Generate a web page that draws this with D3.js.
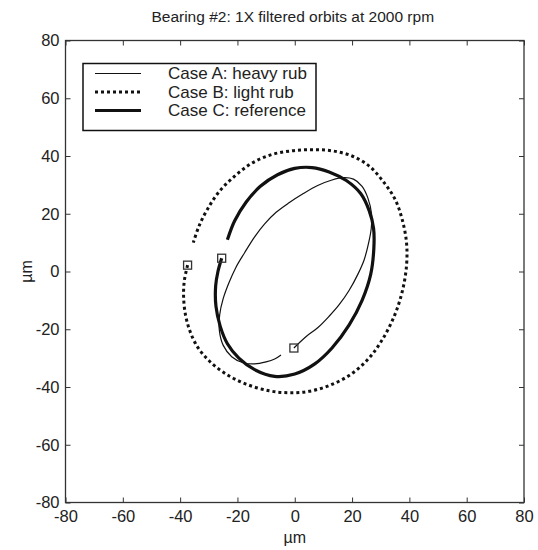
<!DOCTYPE html>
<html>
<head>
<meta charset="utf-8">
<script src="https://cdn.jsdelivr.net/npm/d3@7"></script>
<style>
  body { margin: 0; background: #fff; }
  text { font-family: "Liberation Sans", Arial, sans-serif; fill: #222; }
</style>
</head>
<body>
<div id="chart"></div>
<script>
// orbit data (µm)
var caseA = [[-0.3,-26.5],[4,-22.5],[8,-19.5],[12,-15.5],[15.5,-11.5],[19,-6.5],[22,-1],[24.2,4],
  [25.8,10],[26.7,15],[26.8,20],[25.5,25.5],[23.5,29.5],[20.5,32],[17,32.5],[13,31.7],[8,29.8],
  [3,27],[-2,23.8],[-6.5,20.5],[-10.5,16.5],[-14,12],[-17.5,6.5],[-20.5,1.5],[-23,-4],[-25,-9.5],
  [-26.2,-15],[-26.3,-20.5],[-25,-25.5],[-22,-29.5],[-18,-31.6],[-14,-32],[-10,-31.3],[-7,-30.3],[-4.8,-28.9]];
var caseB = [[-37.4,2.2],[-38.5,-3],[-38.8,-8],[-38.3,-14],[-36.8,-20],[-34,-26],[-29.8,-31],[-24,-35.5],
  [-17,-39],[-9,-41.3],[-2,-42],[5,-41.5],[12,-39.5],[19,-36],[25,-31],[30,-24.5],[34.5,-16],[37.5,-7],
  [39,2],[39,10],[37.5,18],[35,25],[31,31],[26,36.5],[20,40],[13,41.8],[6,42.2],[-1,41.8],[-8,40.5],
  [-15,37.5],[-21,33],[-26.5,27.5],[-30.5,21.5],[-33.5,15.5],[-35.4,10]];
var caseC = [[-25.5,4.6],[-26.8,0],[-27.6,-5],[-27.5,-12],[-26,-19],[-23.5,-25],[-19.5,-30],[-14,-34],
  [-7,-36.3],[0,-35.5],[7,-32],[13,-26.5],[19,-18.5],[23.5,-10],[26.5,-1],[27.6,8],[27.5,15],[26,21],
  [23,27],[18,31.5],[12,34.5],[6,36],[0,35.7],[-6,33.5],[-12,29.5],[-17,24],[-21,17.5],[-23.5,11]];
var legendNames = ["Case A: heavy rub", "Case B: light rub", "Case C: reference"];
var ticks = [-80, -60, -40, -20, 0, 20, 40, 60, 80];

var W = 538, H = 550;
var margin = {top: 40.5, right: 14, bottom: 47.5, left: 65.5},
    width = W - margin.left - margin.right,
    height = H - margin.top - margin.bottom;

var x = d3.scaleLinear().domain([-80, 80]).range([0, width]);
var y = d3.scaleLinear().domain([-80, 80]).range([height, 0]);

var svg = d3.select("#chart").append("svg")
    .attr("width", W)
    .attr("height", H);

svg.append("text")
    .attr("x", margin.left + width / 2 - 2)
    .attr("y", 22)
    .attr("text-anchor", "middle")
    .style("font-size", "15.5px")
    .text("Bearing #2: 1X filtered orbits at 2000 rpm");

var g = svg.append("g")
    .attr("transform", "translate(" + margin.left + "," + margin.top + ")");

// axes, ticks inside on all four sides
function fmt(d) { return String(d); }
function styleAxis(sel) {
  sel.select(".domain").remove();
  sel.selectAll("line").attr("stroke", "#333");
  sel.selectAll("text").style("font-size", "16.5px").attr("fill", "#222");
}
g.append("g").attr("transform", "translate(0," + height + ")")
    .call(d3.axisBottom(x).tickValues(ticks).tickSizeInner(-5).tickSizeOuter(0).tickPadding(8).tickFormat(fmt))
    .call(styleAxis);
g.append("g")
    .call(d3.axisLeft(y).tickValues(ticks).tickSizeInner(-5).tickSizeOuter(0).tickPadding(6).tickFormat(fmt))
    .call(styleAxis);
g.append("g")
    .call(d3.axisTop(x).tickValues(ticks).tickSizeInner(-5).tickSizeOuter(0).tickFormat(""))
    .call(styleAxis);
g.append("g").attr("transform", "translate(" + width + ",0)")
    .call(d3.axisRight(y).tickValues(ticks).tickSizeInner(-5).tickSizeOuter(0).tickFormat(""))
    .call(styleAxis);

g.append("rect")
    .attr("width", width).attr("height", height)
    .attr("fill", "none").attr("stroke", "#333").attr("stroke-width", 1.3);

svg.append("text")
    .attr("x", margin.left + x(0))
    .attr("y", 543)
    .attr("text-anchor", "middle")
    .style("font-size", "16px")
    .text("µm");
svg.append("text")
    .attr("transform", "translate(32," + (margin.top + y(0)) + ") rotate(-90)")
    .attr("text-anchor", "middle")
    .style("font-size", "16px")
    .text("µm");

var line = d3.line()
    .x(function(d) { return x(d[0]); })
    .y(function(d) { return y(d[1]); })
    .curve(d3.curveCatmullRom);

var styles = [
  {width: 1.2, dash: null},
  {width: 3, dash: "3,3"},
  {width: 3.2, dash: null}
];
[caseA, caseB, caseC].forEach(function(data, i) {
  g.append("path")
      .datum(data)
      .attr("fill", "none")
      .attr("stroke", "#111")
      .attr("stroke-width", styles[i].width)
      .attr("stroke-dasharray", styles[i].dash)
      .attr("d", line);
});

// start markers
g.selectAll(".start")
    .data([caseA[0], caseB[0], caseC[0]])
  .enter().append("rect")
    .attr("x", function(d) { return x(d[0]) - 4; })
    .attr("y", function(d) { return y(d[1]) - 4; })
    .attr("width", 8).attr("height", 8)
    .attr("fill", "none")
    .attr("stroke", "#333")
    .attr("stroke-width", 1.3);

// legend
var leg = svg.append("g").attr("transform", "translate(83,63.5)");
leg.append("rect")
    .attr("width", 233).attr("height", 67)
    .attr("fill", "#fff").attr("stroke", "#111").attr("stroke-width", 1.5);
legendNames.forEach(function(name, i) {
  var yy = 10 + i * 18.5;
  leg.append("line")
      .attr("x1", 12).attr("x2", 58)
      .attr("y1", yy).attr("y2", yy)
      .attr("stroke", "#111")
      .attr("stroke-width", styles[i].width)
      .attr("stroke-dasharray", styles[i].dash);
  leg.append("text")
      .attr("x", 85).attr("y", yy + 5.5)
      .style("font-size", "17px")
      .text(name);
});
</script>
</body>
</html>
